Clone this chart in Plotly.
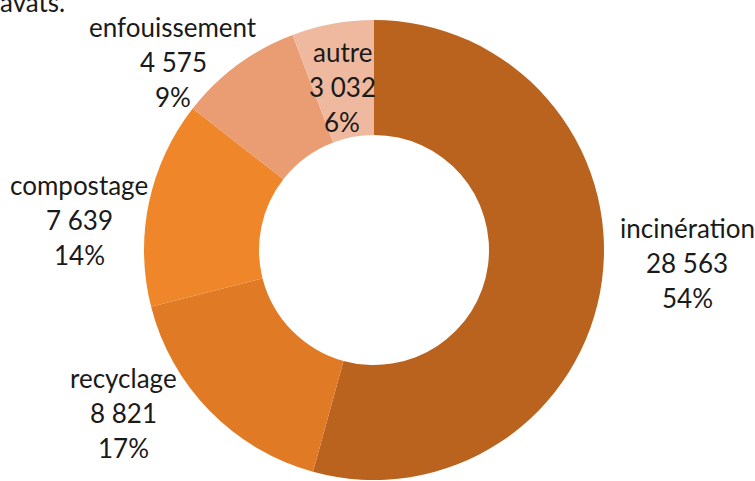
# -*- coding: utf-8 -*-

import plotly.graph_objects as go

W, H = 755, 481

# Data
categories = ["incinération", "recyclage", "compostage", "enfouissement", "autre"]
values = [28563, 8821, 7639, 4575, 3032]
pct_labels = ["54%", "17%", "14%", "9%", "6%"]
colors = ["#B9631E", "#E07A25", "#F0862A", "#EA9C72", "#EFB9A0"]

# label anchor (pixel centre of first line) for each category
label_px = {
    "incinération": (687, 228),
    "recyclage": (124, 378),
    "compostage": (79, 185),
    "enfouissement": (173, 27),
    "autre": (342, 52),
}
line_step = 35
font_family = "Lato, 'Open Sans', sans-serif"
font_size = 26


def fmt(v):
    return "{:,}".format(v).replace(",", " ")


fig = go.Figure()

fig.add_trace(go.Pie(
    labels=categories,
    values=values,
    hole=0.5,
    sort=False,
    direction="clockwise",
    rotation=0,
    textinfo="none",
    marker=dict(colors=colors, line=dict(width=0)),
    domain=dict(x=[144 / W, 604 / W], y=[1 - 480 / H, 1 - 20 / H]),
    showlegend=False,
))

annotations = []
for cat, v, p in zip(categories, values, pct_labels):
    cx, cy = label_px[cat]
    for i, line in enumerate([cat, fmt(v), p]):
        annotations.append(dict(
            x=cx / W, y=1 - (cy + i * line_step) / H,
            xref="paper", yref="paper",
            text=line, showarrow=False,
            xanchor="center", yanchor="middle",
            font=dict(size=font_size, color="#1a1a1a", family=font_family),
        ))

# cut-off text from the previous line of the source page
annotations.append(dict(
    x=-2 / W, y=1 - 20 / H, xref="paper", yref="paper",
    text="avats.", showarrow=False, xanchor="left", yanchor="bottom",
    font=dict(size=font_size, color="#1a1a1a", family=font_family),
))

fig.update_layout(
    width=W, height=H,
    margin=dict(l=0, r=0, t=0, b=0),
    paper_bgcolor="white",
    plot_bgcolor="white",
    annotations=annotations,
)

# drop the browser's default body margin so the figure sits at the page corner
fig.write_html("out.html", config={"displayModeBar": False},
               post_script="document.body.style.margin='0';")
